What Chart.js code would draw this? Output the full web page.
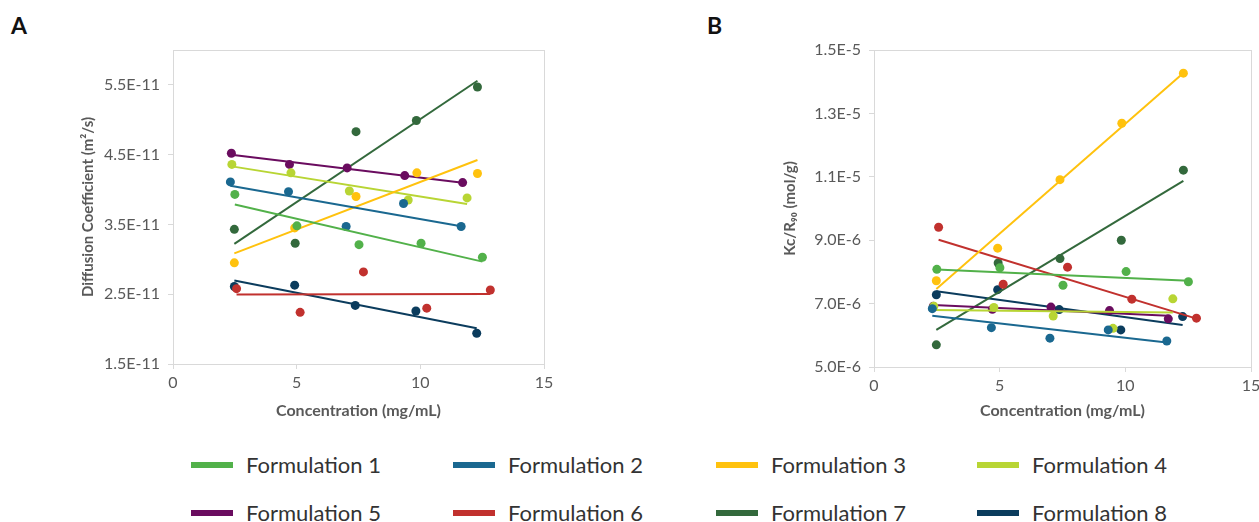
<!DOCTYPE html>
<html>
<head>
<meta charset="utf-8">
<script src="https://cdn.jsdelivr.net/npm/chart.js@4"></script>
<style>
  html, body { margin: 0; padding: 0; background: #fff; }
  body { width: 1259px; height: 522px; position: relative; overflow: hidden; font-family: Lato, "Noto Sans", sans-serif; }
  canvas { position: absolute; top: 0; }
  #chartA { left: 0; }
  #chartB { left: 700px; }
  .panel { position: absolute; top: 11px; font-size: 23px; font-weight: bold; color: #111; }
  .item { position: absolute; height: 26px; font-size: 22px; color: #333; white-space: nowrap; }
  .item span.sw { position: absolute; left: 0; top: 10px; width: 42px; height: 6px; }
  .item span.tx { position: absolute; left: 55px; top: 0; line-height: 26px; }
</style>
</head>
<body>
<div class="panel" style="left:11px">A</div>
<div class="panel" style="left:707px">B</div>
<canvas id="chartA" width="640" height="430"></canvas>
<canvas id="chartB" width="580" height="430"></canvas>
<div id="legend"></div>
<script>
// Series names and colours
const names = ['Formulation 1', 'Formulation 2', 'Formulation 3', 'Formulation 4',
               'Formulation 5', 'Formulation 6', 'Formulation 7', 'Formulation 8'];
const colors = ['#52b14a', '#1a6890', '#ffc20e', '#b8d534',
                '#6a0c5f', '#c1312e', '#33693c', '#0b3c5d'];

// Concentration (mg/mL) of each formulation
const conc1 = [2.50, 5.01, 7.52, 10.03, 12.51];
const conc2 = [2.32, 4.67, 7.00, 9.32, 11.65];
const conc3 = [2.48, 4.92, 7.40, 9.86, 12.31];
const conc4 = [2.38, 4.77, 7.13, 9.51, 11.89];
const conc5 = [2.36, 4.71, 7.04, 9.37, 11.71];
const conc6 = [2.57, 5.14, 7.70, 10.26, 12.83];
const conc7 = [2.48, 4.94, 7.40, 9.84, 12.31];
const conc8 = [2.48, 4.92, 7.37, 9.82, 12.28];

// Panel A: diffusion coefficient (m²/s)
const diff1 = [3.93e-11, 3.48e-11, 3.21e-11, 3.23e-11, 3.03e-11];
const diff2 = [4.11e-11, 3.97e-11, 3.47e-11, 3.80e-11, 3.47e-11];
const diff3 = [2.95e-11, 3.45e-11, 3.90e-11, 4.24e-11, 4.23e-11];
const diff4 = [4.36e-11, 4.24e-11, 3.98e-11, 3.85e-11, 3.88e-11];
const diff5 = [4.52e-11, 4.36e-11, 4.31e-11, 4.20e-11, 4.10e-11];
const diff6 = [2.58e-11, 2.24e-11, 2.82e-11, 2.30e-11, 2.56e-11];
const diff7 = [3.43e-11, 3.23e-11, 4.83e-11, 4.99e-11, 5.47e-11];
const diff8 = [2.61e-11, 2.63e-11, 2.34e-11, 2.26e-11, 1.94e-11];

// Panel B: Kc/R90 (mol/g)
const kcr1 = [8.08e-6, 8.13e-6, 7.58e-6, 8.01e-6, 7.69e-6];
const kcr2 = [6.84e-6, 6.24e-6, 5.91e-6, 6.17e-6, 5.82e-6];
const kcr3 = [7.72e-6, 8.75e-6, 10.91e-6, 12.69e-6, 14.27e-6];
const kcr4 = [6.92e-6, 6.88e-6, 6.61e-6, 6.22e-6, 7.15e-6];
const kcr5 = [6.92e-6, 6.82e-6, 6.89e-6, 6.78e-6, 6.52e-6];
const kcr6 = [9.41e-6, 7.61e-6, 8.15e-6, 7.14e-6, 6.54e-6];
const kcr7 = [5.70e-6, 8.28e-6, 8.42e-6, 9.00e-6, 11.21e-6];
const kcr8 = [7.28e-6, 7.44e-6, 6.81e-6, 6.17e-6, 6.59e-6];

// Axis ticks
const xTicks = [0, 5, 10, 15];
const yTicksA = [1.5e-11, 2.5e-11, 3.5e-11, 4.5e-11, 5.5e-11];
const yTicksB = [5.0e-6, 7.0e-6, 9.0e-6, 1.1e-5, 1.3e-5, 1.5e-5];

const concs = [conc1, conc2, conc3, conc4, conc5, conc6, conc7, conc8];
const diffs = [diff1, diff2, diff3, diff4, diff5, diff6, diff7, diff8];
const kcrs = [kcr1, kcr2, kcr3, kcr4, kcr5, kcr6, kcr7, kcr8];

// least squares trend line between the first and last concentration
function trend(xs, ys) {
    const n = xs.length;
    const mx = xs.reduce((a, b) => a + b, 0) / n;
    const my = ys.reduce((a, b) => a + b, 0) / n;
    let sxy = 0, sxx = 0;
    xs.forEach((x, i) => { sxy += (x - mx) * (ys[i] - my); sxx += (x - mx) * (x - mx); });
    const k = sxy / sxx;
    const x0 = Math.min(...xs), x1 = Math.max(...xs);
    return [{ x: x0, y: my + k * (x0 - mx) }, { x: x1, y: my + k * (x1 - mx) }];
}

function buildDatasets(values) {
    const sets = [];
    names.forEach((name, i) => {
        sets.push({
            label: name,
            data: trend(concs[i], values[i]),
            showLine: true,
            borderColor: colors[i],
            borderWidth: 2,
            pointRadius: 0
        });
        sets.push({
            label: name,
            data: concs[i].map((x, j) => ({ x: x, y: values[i][j] })),
            backgroundColor: colors[i],
            borderColor: colors[i],
            borderWidth: 0,
            pointRadius: 4.5
        });
    });
    return sets;
}

// border round the plot area
const plotBox = {
    id: 'plotBox',
    beforeDatasetsDraw(chart) {
        const { ctx, chartArea: a } = chart;
        ctx.save();
        ctx.strokeStyle = '#d9d9d9';
        ctx.lineWidth = 1;
        ctx.strokeRect(Math.round(a.left) + 0.5, Math.round(a.top) + 0.5, Math.round(a.width), Math.round(a.height));
        ctx.restore();
    }
};

const fontFamily = 'Lato, "Noto Sans", sans-serif';
const tickFont = { family: fontFamily, size: 16 };
const titleFont = { family: fontFamily, size: 16, weight: 'bold' };
const axisColor = '#d9d9d9';
const textColor = '#595959';

function makeChart(id, values, yTicks, yMax, yTitle, pad, yWidth, xHeight) {
    return new Chart(document.getElementById(id), {
        type: 'scatter',
        data: { datasets: buildDatasets(values) },
        plugins: [plotBox],
        options: {
            responsive: false,
            animation: false,
            devicePixelRatio: 1,
            layout: { padding: pad },
            plugins: { legend: { display: false }, tooltip: { enabled: false } },
            scales: {
                x: {
                    type: 'linear',
                    min: xTicks[0],
                    max: xTicks[xTicks.length - 1],
                    afterBuildTicks: s => { s.ticks = xTicks.map(v => ({ value: v })); },
                    afterFit: s => { s.height = xHeight; },
                    grid: { drawOnChartArea: false, drawTicks: true, tickLength: 5, color: axisColor },
                    border: { color: axisColor },
                    ticks: { font: tickFont, color: textColor, padding: 4, maxRotation: 0 },
                    title: { display: true, text: 'Concentration (mg/mL)', font: titleFont, color: textColor, padding: { top: 0, bottom: 10 } }
                },
                y: {
                    type: 'linear',
                    min: yTicks[0],
                    max: yMax,
                    afterBuildTicks: s => { s.ticks = yTicks.map(v => ({ value: v })); },
                    afterFit: s => { s.width = yWidth; },
                    grid: { drawOnChartArea: false, drawTicks: true, tickLength: 5, color: axisColor },
                    border: { color: axisColor },
                    ticks: {
                        font: tickFont, color: textColor, padding: 8,
                        callback: v => v.toExponential(1).toUpperCase()
                    },
                    title: { display: true, text: yTitle, font: { family: fontFamily, size: 15, weight: 'bold' }, color: textColor, padding: { top: 3, bottom: 4 } }
                }
            }
        }
    });
}

makeChart('chartA', diffs, yTicksA, 6.0e-11, 'Diffusion Coefficient (m\u00b2/s)', { left: 76, top: 50, right: 96, bottom: 0 }, 97, 66);
makeChart('chartB', kcrs, yTicksB, 1.5e-5, 'Kc/R\u2089\u2080 (mol/g)', { left: 78, top: 50, right: 29, bottom: 0 }, 96, 63);

// legend, two rows of four
const legendX = [191, 453, 716, 977];
const legendY = [452, 500];
const legend = document.getElementById('legend');
names.forEach((name, i) => {
    const d = document.createElement('div');
    d.className = 'item';
    d.style.left = legendX[i % 4] + 'px';
    d.style.top = legendY[Math.floor(i / 4)] + 'px';
    d.innerHTML = '<span class="sw" style="background:' + colors[i] + '"></span><span class="tx">' + name + '</span>';
    legend.appendChild(d);
});
</script>
</body>
</html>
